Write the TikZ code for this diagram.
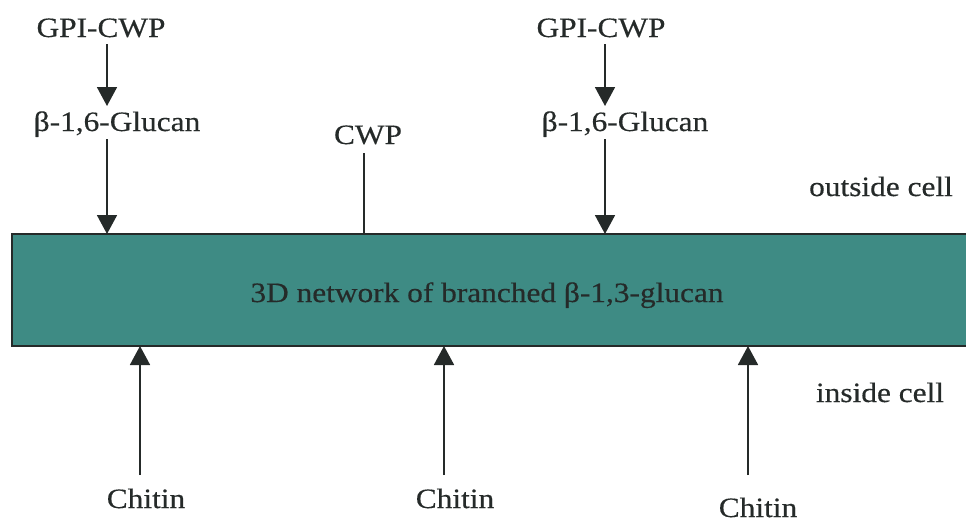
\documentclass[tikz,border=0pt]{standalone}
\usepackage{fontspec}
\setmainfont[FakeStretch=1.12,FakeBold=0.4]{Liberation Serif}
\usetikzlibrary{arrows.meta}
\definecolor{ink}{HTML}{252A29}
\definecolor{wall}{HTML}{3E8B84}
\begin{document}
\begin{tikzpicture}[x=1pt,y=-1pt,
  lbl/.style={text=ink,font=\fontsize{28}{32}\selectfont,inner sep=0pt,anchor=base},
  link/.style={draw=ink,line width=1.8pt},
  arr/.style={link,-{Triangle[width=20pt,length=19pt]}}]
\useasboundingbox (0,0) rectangle (966,522);
% cell wall band
\fill[wall] (12,234) rectangle (966,346);
\draw[ink,line width=2pt] (966,234) -- (12,234) -- (12,346) -- (966,346);
\node[lbl] (net) at (487,302) {3D network of branched β-1,3-glucan};
% anchor points on the wall
\coordinate (t1) at (107,234);
\coordinate (t2) at (364,234);
\coordinate (t3) at (605,234);
\coordinate (b1) at (140,346);
\coordinate (b2) at (444,346);
\coordinate (b3) at (748,346);
% outside
\node[lbl] (gpi1) at (101,37) {GPI-CWP};
\node[lbl] (glu1) at (117,131) {β-1,6-Glucan};
\node[lbl] (cwp) at (368,144) {CWP};
\node[lbl] (gpi2) at (601,37) {GPI-CWP};
\node[lbl] (glu2) at (625,131) {β-1,6-Glucan};
\node[lbl] (out) at (881,196) {outside cell};
\node[lbl] (in) at (880,402) {inside cell};
% inside
\node[lbl] (ch1) at (146,508) {Chitin};
\node[lbl] (ch2) at (455,508) {Chitin};
\node[lbl] (ch3) at (758,517) {Chitin};
% connectors
\coordinate (g1a) at (107,44);
\coordinate (g1b) at (107,106);
\coordinate (u1a) at (107,139);
\coordinate (g2a) at (605,44);
\coordinate (g2b) at (605,106);
\coordinate (u2a) at (605,139);
\coordinate (ca) at (364,153);
\draw[arr] (g1a) -- (g1b);
\draw[arr] (u1a) -- (t1);
\draw[arr] (g2a) -- (g2b);
\draw[arr] (u2a) -- (t3);
\draw[link] (ca) -- (t2);
\coordinate (c1) at (140,475);
\coordinate (c2) at (444,475);
\coordinate (c3) at (748,475);
\draw[arr] (c1) -- (b1);
\draw[arr] (c2) -- (b2);
\draw[arr] (c3) -- (b3);
\end{tikzpicture}
\end{document}
